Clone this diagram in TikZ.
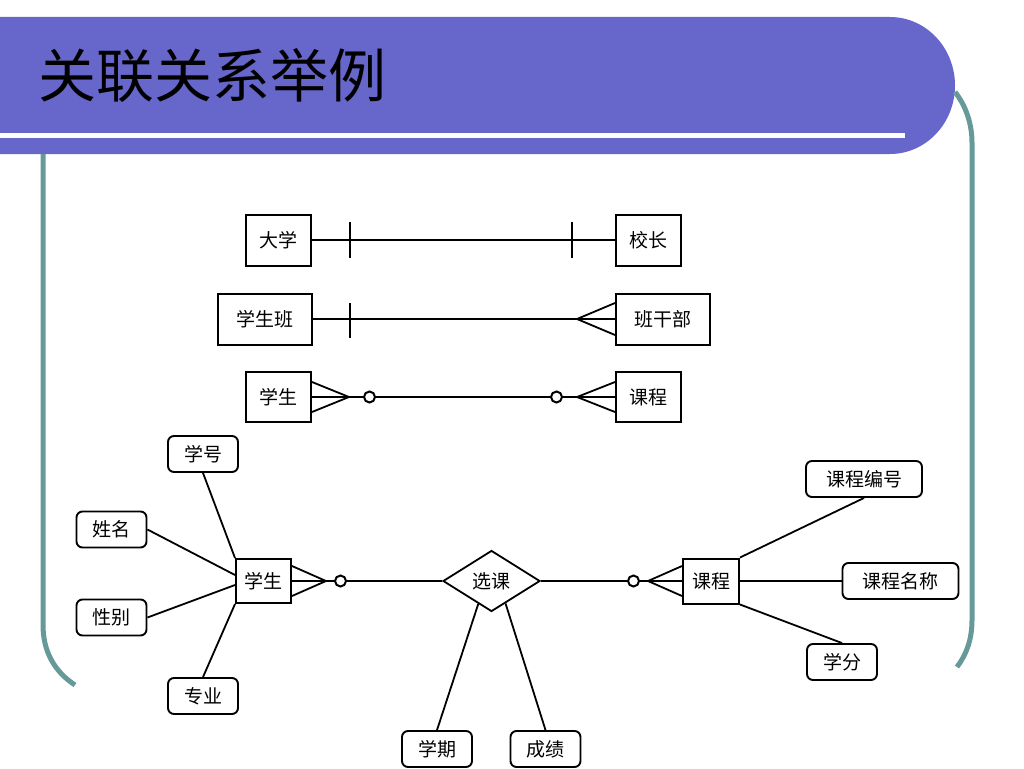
\documentclass[tikz,border=0pt]{standalone}
\usepackage{fontspec}
\setmainfont{Noto Sans CJK SC}
\usetikzlibrary{shapes.geometric,positioning,calc}
\definecolor{bannerblue}{RGB}{103,103,203}
\definecolor{frameteal}{RGB}{102,153,153}
\tikzset{
  every node/.style = {font=\fontsize{19pt}{19pt}\selectfont},
  entity/.style     = {draw, line width=2pt, minimum width=65pt, minimum height=51pt, inner sep=0pt},
  small entity/.style = {entity, minimum width=55pt, minimum height=44pt},
  attr/.style       = {draw, line width=1.9pt, rounded corners=6pt, minimum width=70pt, minimum height=36pt, inner xsep=16pt, inner ysep=0pt},
  wide attr/.style  = {attr, minimum width=116pt},
  relship/.style    = {draw, diamond, aspect=1.6, line width=1.8pt, minimum width=97pt, minimum height=61pt, inner sep=0pt},
  ring/.style       = {draw, circle, line width=2pt, minimum size=11pt, inner sep=0pt},
  link/.style       = {line width=1.8pt},
  frame/.style      = {frameteal, line width=5pt}
}

\begin{document}
\begin{tikzpicture}[x=1pt, y=-1pt]
  \useasboundingbox (0,0) rectangle (1024,768);

  % slide background
  \fill[bannerblue] (0,17) -- (890,17) arc[start angle=-90, end angle=90, x radius=65, y radius=68.5] -- (0,154) -- cycle;
  \fill[white] (0,133) rectangle (905,137.5);
  \draw[frame] (43,154) -- (43,625) .. controls (43,652) and (55,672) .. (75,685);
  \draw[frame] (955,92) .. controls (966,106) and (972,124) .. (972,143) -- (972,620) .. controls (972,640) and (966,655) .. (957,667);
  \node[anchor=west, font=\fontsize{58pt}{58pt}\selectfont] (title) at (35,76) {关联关系举例};

  % one to one
  \node[entity] (dx) at (278.5,240) {大学};
  \node[entity] (xz) at (648.5,240) {校长};
  \draw[link] (dx) -- (xz);
  \draw[link] ([xshift=38pt]dx.east) ++(0,-18) -- ++(0,36);
  \draw[link] ([xshift=-43pt]xz.west) ++(0,-18) -- ++(0,36);

  % one to many
  \node[entity, minimum width=94pt] (xsb) at (265,319) {学生班};
  \node[entity, minimum width=94pt] (bgb) at (663,319) {班干部};
  \draw[link] (xsb) -- (bgb);
  \draw[link] ([xshift=37pt]xsb.east) ++(0,-16) -- ++(0,35);
  \coordinate[left=38pt of bgb.west] (a2);
  \draw[link] ([yshift=16pt]bgb.west) -- (a2) -- ([yshift=-16pt]bgb.west);

  % many to many
  \node[entity, minimum height=50pt] (xs1) at (278.5,397) {学生};
  \node[entity, minimum height=50pt] (kc1) at (648.5,397) {课程};
  \coordinate[right=37pt of xs1.east] (a3);
  \coordinate[left=38pt of kc1.west] (a4);
  \node[ring, right=14pt of a3] (o1) {};
  \node[ring, left=14pt of a4] (o2) {};
  \draw[link] ([yshift=15pt]xs1.east) -- (a3) -- ([yshift=-15pt]xs1.east);
  \draw[link] (xs1.east) -- (a3) -- (o1) -- (o2) -- (a4) -- (kc1.west);
  \draw[link] ([yshift=15pt]kc1.west) -- (a4) -- ([yshift=-15pt]kc1.west);

  % E-R diagram
  \node[small entity] (xs) at (263.5,581) {学生};
  \node[relship] (xk) at (491.5,581) {选课};
  \node[small entity, minimum width=56pt, minimum height=45pt] (kc) at (711,581) {课程};
  \coordinate[right=34pt of xs.east] (a5);
  \coordinate[left=34pt of kc.west] (a6);
  \node[ring, right=8pt of a5] (o3) {};
  \node[ring, left=8pt of a6] (o4) {};
  \draw[link] ([yshift=15pt]xs.east) -- (a5) -- ([yshift=-15pt]xs.east);
  \draw[link] (xs.east) -- (a5) -- (o3) -- (xk.west);
  \draw[link] (xk.east) -- (o4) -- (a6) -- (kc.west);
  \draw[link] ([yshift=15pt]kc.west) -- (a6) -- ([yshift=-15pt]kc.west);

  % attributes
  \node[attr] (xh) at (203,454) {学号};
  \node[attr] (xm) at (111.5,529.5) {姓名};
  \node[attr] (xb) at (111.5,617.5) {性别};
  \node[attr] (zy) at (203,696) {专业};
  \node[attr] (xq) at (437,749) {学期};
  \node[attr] (cj) at (545.5,749) {成绩};
  \node[wide attr] (kcbh) at (864,479) {课程编号};
  \node[wide attr] (kcmc) at (900.5,581) {课程名称};
  \node[attr] (xf) at (842,662) {学分};

  \draw[link] (xh.south) -- (xs.north west);
  \draw[link] (xm.east) -- ([yshift=6pt]xs.west);
  \draw[link] (xb.east) -- ([yshift=-4pt]xs.west);
  \draw[link] (zy.north) -- (xs.south west);
  \draw[link] (xq.north) -- (xk.-120);
  \draw[link] (cj.north) -- (xk.-58);
  \draw[link] (kcbh.south) -- (kc.north east);
  \draw[link] (kc.east) -- (kcmc.west);
  \draw[link] (xf.north) -- (kc.south east);
\end{tikzpicture}
\end{document}
